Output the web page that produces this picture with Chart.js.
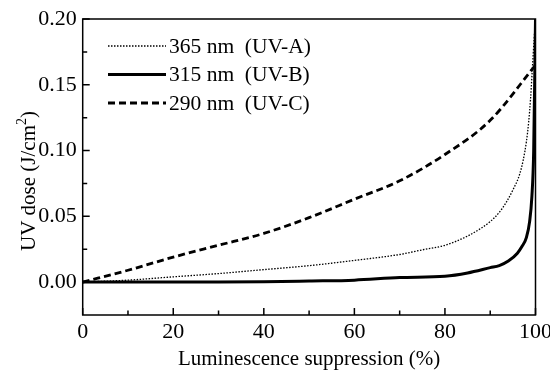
<!DOCTYPE html>
<html>
<head>
<meta charset="utf-8">
<script src="https://cdn.jsdelivr.net/npm/chart.js@4.4.1/dist/chart.umd.min.js"></script>
<style>
  html, body { margin: 0; padding: 0; background: #fff; }
</style>
</head>
<body>
<canvas id="uvChart" width="550" height="372"></canvas>
<script>
// luminescence suppression (%) vs UV dose (J/cm2), one pair of arrays per wavelength
const uvaSuppression = [0, 10, 20, 30, 40, 50, 60, 70, 75, 80, 85, 88, 90, 92, 93.6, 95, 96.5, 97.3, 98, 98.5, 98.9, 99.3, 99.7, 100];
const uvaDose = [0, 0.0015, 0.004, 0.0065, 0.0095, 0.0125, 0.0165, 0.021, 0.0245, 0.028, 0.035, 0.041, 0.046, 0.053, 0.061, 0.070, 0.082, 0.093, 0.107, 0.122, 0.139, 0.162, 0.185, 0.200];

const uvbSuppression = [0, 10, 20, 30, 40, 50, 60, 70, 80, 85, 90, 92, 94, 96, 97, 98, 98.7, 99.2, 99.6, 100];
const uvbDose = [0, 0, 0, 0, 0.0002, 0.0008, 0.0015, 0.0035, 0.0045, 0.007, 0.011, 0.0126, 0.016, 0.022, 0.027, 0.034, 0.046, 0.065, 0.100, 0.200];

const uvcSuppression = [0, 10, 20, 30, 40, 50, 60, 70, 80, 90, 100];
const uvcDose = [0, 0.009, 0.019, 0.028, 0.037, 0.049, 0.063, 0.077, 0.097, 0.123, 0.165];

const seriesLabels = ['365 nm  (UV-A)', '315 nm  (UV-B)', '290 nm  (UV-C)'];

const xTicks = [0, 20, 40, 60, 80, 100];
const xMinorTicks = [10, 30, 50, 70, 90];
const yTicks = [0, 0.05, 0.10, 0.15, 0.20];
const yMinorTicks = [0.025, 0.075, 0.125, 0.175];

const serif = '"Liberation Serif", "Times New Roman", serif';

const toPoints = (xs, ys) => xs.map((v, i) => ({x: v, y: ys[i]}));

//----------frame, inward ticks, legend and axis titles----------
const frameAndTicks = {
  id: 'frameAndTicks',
  afterDraw(chart) {
    const {ctx, chartArea: a, scales: {x, y}} = chart;
    ctx.save();
    ctx.strokeStyle = '#000';
    ctx.lineWidth = 1.5;
    ctx.strokeRect(a.left, a.top, a.right - a.left, a.bottom - a.top);
    ctx.beginPath();
    xTicks.forEach(v => { const px = x.getPixelForValue(v); ctx.moveTo(px, a.bottom); ctx.lineTo(px, a.bottom - 7); });
    xMinorTicks.forEach(v => { const px = x.getPixelForValue(v); ctx.moveTo(px, a.bottom); ctx.lineTo(px, a.bottom - 4.5); });
    yTicks.forEach(v => { const py = y.getPixelForValue(v); ctx.moveTo(a.left, py); ctx.lineTo(a.left + 7, py); });
    yMinorTicks.forEach(v => { const py = y.getPixelForValue(v); ctx.moveTo(a.left, py); ctx.lineTo(a.left + 4.5, py); });
    ctx.stroke();

    // legend inside the plot
    ctx.font = '21.5px ' + serif;
    ctx.fillStyle = '#000';
    ctx.textBaseline = 'middle';
    chart.data.datasets.forEach((ds, i) => {
      const ly = 46 + i * 28.5;
      ctx.beginPath();
      ctx.lineWidth = ds.borderWidth;
      ctx.setLineDash(ds.borderDash || []);
      ctx.moveTo(108, ly);
      ctx.lineTo(166, ly);
      ctx.stroke();
      ctx.setLineDash([]);
      ctx.fillText(ds.label, 169, ly + 1);
    });

    // x axis title
    ctx.font = '21px ' + serif;
    ctx.textAlign = 'center';
    ctx.textBaseline = 'alphabetic';
    ctx.fillText('Luminescence suppression (%)', (a.left + a.right) / 2, 365);

    // y axis title with superscript
    ctx.translate(35, 181);
    ctx.rotate(-Math.PI / 2);
    ctx.textAlign = 'left';
    const main = 'UV dose (J/cm';
    const wMain = ctx.measureText(main).width;
    ctx.font = '14px ' + serif;
    const wSup = ctx.measureText('2').width;
    ctx.font = '21px ' + serif;
    const wEnd = ctx.measureText(')').width;
    const start = -(wMain + wSup + wEnd) / 2;
    ctx.fillText(main, start, 0);
    ctx.font = '14px ' + serif;
    ctx.fillText('2', start + wMain, -9);
    ctx.font = '21px ' + serif;
    ctx.fillText(')', start + wMain + wSup, 0);
    ctx.restore();
  }
};

const lineStyle = {
  borderColor: '#000',
  backgroundColor: '#000',
  pointRadius: 0,
  showLine: true,
  fill: false,
  cubicInterpolationMode: 'monotone'
};

new Chart(document.getElementById('uvChart'), {
  type: 'scatter',
  data: {
    datasets: [
      {...lineStyle, label: seriesLabels[0], data: toPoints(uvaSuppression, uvaDose), borderWidth: 1.3, borderDash: [1.5, 1.5]},
      {...lineStyle, label: seriesLabels[1], data: toPoints(uvbSuppression, uvbDose), borderWidth: 3},
      {...lineStyle, label: seriesLabels[2], data: toPoints(uvcSuppression, uvcDose), borderWidth: 2.8, borderDash: [7, 4]}
    ]
  },
  options: {
    responsive: false,
    animation: false,
    devicePixelRatio: 1,
    layout: {padding: {top: 19, right: 14.5, left: 0, bottom: 0}},
    plugins: {legend: {display: false}, tooltip: {enabled: false}},
    scales: {
      x: {
        type: 'linear',
        min: 0,
        max: 100,
        grid: {display: false, drawTicks: false},
        border: {display: false},
        afterBuildTicks: scale => { scale.ticks = xTicks.map(v => ({value: v})); },
        afterFit: scale => { scale.height = 57; scale.paddingLeft = 0; scale.paddingRight = 0; },
        ticks: {color: '#000', padding: 4, maxRotation: 0, font: {family: serif, size: 22}}
      },
      y: {
        type: 'linear',
        min: -0.025,
        max: 0.2,
        grid: {display: false, drawTicks: false},
        border: {display: false},
        afterBuildTicks: scale => { scale.ticks = yTicks.map(v => ({value: v})); },
        afterFit: scale => { scale.width = 82.7; scale.paddingTop = 0; scale.paddingBottom = 0; },
        ticks: {color: '#000', padding: 6, font: {family: serif, size: 22}, callback: v => v.toFixed(2)}
      }
    }
  },
  plugins: [frameAndTicks]
});
</script>
</body>
</html>
